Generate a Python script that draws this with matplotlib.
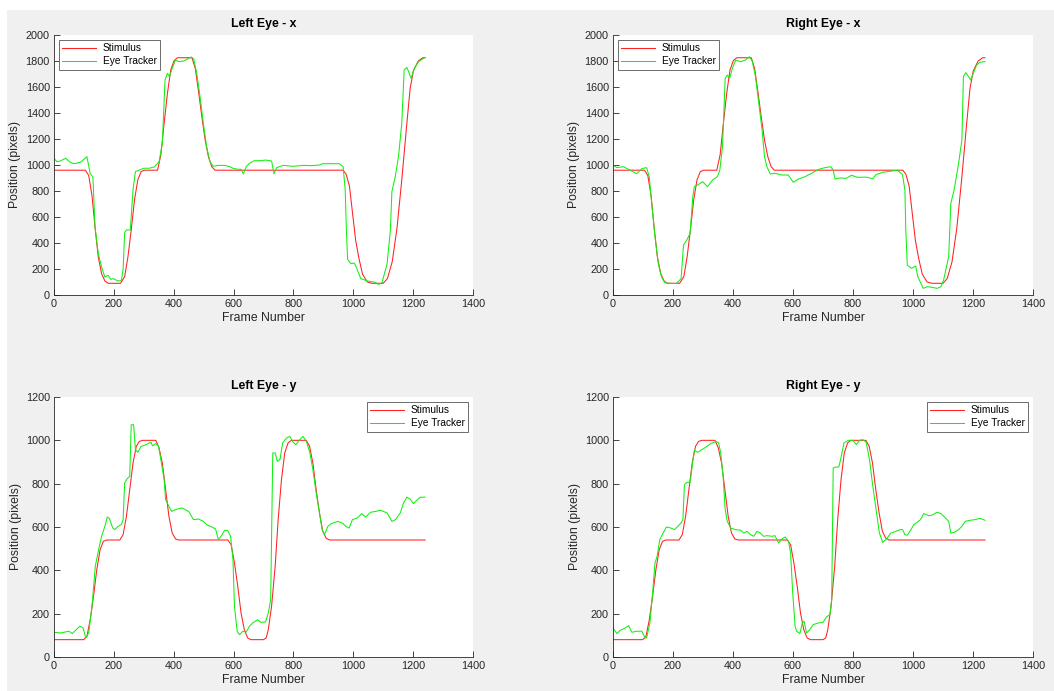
import numpy as np
import matplotlib
matplotlib.use('Agg')
import matplotlib.pyplot as plt
from matplotlib.patches import Rectangle

plt.rcParams['font.family'] = ['Liberation Sans', 'DejaVu Sans']

# stimulus trajectory (same for both eyes)
stim_x_frames = [0, 105, 116, 127, 138, 148, 159, 170, 181, 222, 236, 247, 258, 269, 280, 291, 302,
                 346, 357, 368, 379, 390, 401, 412, 461, 472, 483, 494, 505, 516, 527, 538,
                 966, 976, 987, 998, 1008, 1019, 1031, 1047, 1062, 1100, 1114, 1130, 1146, 1162,
                 1179, 1190, 1201, 1217, 1232, 1240]
stim_x = [960, 960, 920, 763, 500, 292, 164, 108, 90, 90, 141, 292, 500, 731, 885, 949, 960,
          960, 1077, 1321, 1551, 1731, 1802, 1825, 1825, 1744, 1564, 1372, 1192, 1064, 987, 960,
          960, 930, 840, 620, 420, 280, 160, 100, 90, 90, 126, 255, 513, 885,
          1321, 1590, 1725, 1800, 1825, 1825]

stim_y_frames = [0, 99, 110, 121, 132, 143, 154, 165, 176, 220, 231, 242, 253, 264, 275, 285, 296,
                 340, 351, 362, 373, 384, 395, 406, 417, 581, 592, 603, 614, 625, 636, 647, 658,
                 700, 709, 716, 727, 739, 749, 760, 771, 782, 793, 843, 854, 865, 876, 887, 898,
                 909, 920, 1240]
stim_y = [80, 80, 95, 172, 280, 403, 495, 534, 540, 540, 565, 649, 772, 895, 972, 995, 1000,
          1000, 965, 895, 772, 649, 572, 545, 540, 540, 518, 434, 326, 203, 126, 88, 80,
          80, 88, 126, 234, 419, 634, 818, 942, 988, 1000, 1000, 972, 895, 772, 665, 580,
          549, 540, 540]

# eye tracker readings
lx_frames = [0, 10, 20, 39, 55, 66, 88, 110, 121, 130, 137, 148, 159, 170, 181, 190, 198, 214, 225,
             231, 236, 242, 255, 264, 272, 285, 300, 318, 335, 351, 362, 371, 379, 386, 395, 406,
             417, 433, 444, 459, 467, 477, 488, 499, 510, 521, 532, 549, 571, 587, 598, 614, 625,
             633, 642, 653, 669, 691, 707, 727, 735, 744, 766, 799, 832, 860, 887, 898, 953, 966,
             973, 977, 981, 992, 1003, 1010, 1025, 1047, 1069, 1085, 1096, 1113, 1124, 1129, 1140,
             1151, 1162, 1170, 1179, 1187, 1193, 1204, 1218, 1240]
lx = [1051, 1025, 1030, 1051, 1020, 1010, 1020, 1064, 933, 908, 525, 318, 215, 138, 151, 120, 126,
      108, 110, 200, 480, 500, 500, 808, 949, 961, 975, 975, 985, 1025, 1167, 1654, 1705, 1679,
      1744, 1808, 1795, 1800, 1813, 1831, 1815, 1705, 1526, 1321, 1141, 1026, 990, 997, 997, 987,
      975, 967, 967, 931, 987, 1013, 1033, 1033, 1038, 1031, 933, 980, 997, 990, 997, 995, 1000,
      1010, 1010, 987, 808, 500, 274, 241, 246, 215, 126, 108, 100, 82, 95, 241, 500, 795, 908,
      1064, 1321, 1731, 1751, 1705, 1667, 1744, 1795, 1828]

rx_frames = [0, 13, 35, 57, 79, 96, 112, 121, 129, 140, 151, 162, 173, 189, 211, 227, 235, 246, 257,
             266, 271, 282, 299, 315, 332, 348, 356, 365, 374, 381, 389, 398, 409, 425, 442, 455,
             464, 475, 486, 497, 505, 513, 524, 540, 562, 584, 601, 618, 640, 662, 685, 707, 726,
             734, 740, 756, 778, 795, 816, 844, 866, 877, 899, 921, 948, 965, 973, 976, 981, 995,
             1009, 1016, 1034, 1047, 1064, 1080, 1093, 1102, 1119, 1126, 1137, 1152, 1163, 1168,
             1176, 1185, 1192, 1201, 1212, 1223, 1240]
rx = [997, 980, 987, 960, 933, 972, 980, 908, 705, 449, 241, 138, 95, 90, 88, 126, 384, 423, 474,
      756, 833, 846, 872, 833, 885, 910, 960, 1141, 1667, 1692, 1667, 1744, 1808, 1795, 1808, 1833,
      1800, 1680, 1474, 1269, 1064, 987, 931, 936, 923, 923, 867, 892, 910, 936, 966, 980, 987,
      960, 892, 900, 898, 921, 905, 907, 895, 926, 944, 951, 960, 926, 808, 500, 230, 205,
      223, 141, 51, 64, 59, 51, 64, 115, 295, 705, 808, 1013, 1192, 1680,
      1711, 1680, 1654, 1705, 1769, 1790, 1795]

ly_frames = [0, 22, 50, 61, 72, 86, 97, 106, 116, 127, 138, 149, 159, 170, 178, 185, 196, 203, 214,
             225, 231, 236, 244, 253, 258, 266, 272, 280, 291, 307, 324, 329, 340, 349, 357, 368,
             373, 384, 393, 412, 428, 450, 466, 483, 499, 510, 527, 540, 549, 560, 570, 581, 590,
             598, 603, 612, 620, 631, 642, 653, 664, 680, 691, 707, 716, 724, 731, 739, 746, 755,
             764, 777, 788, 799, 808, 821, 832, 843, 854, 865, 876, 887, 896, 904, 915, 926, 948,
             964, 975, 986, 997, 1014, 1028, 1041, 1058, 1074, 1091, 1113, 1129, 1141, 1157, 1168,
             1179, 1190, 1201, 1212, 1223, 1240]
ly = [114, 111, 119, 108, 123, 142, 135, 88, 111, 234, 419, 495, 557, 603, 646, 640, 596, 588, 603,
      611, 634, 803, 822, 834, 1072, 1072, 957, 945, 972, 980, 991, 975, 985, 975, 911, 818,
      726, 695, 672, 683, 688, 672, 634, 637, 626, 611, 600, 591, 542, 560, 585, 583, 557,
      449, 234, 119, 103, 119, 115, 142, 157, 172, 160, 162, 203, 265, 942, 942, 903, 911,
      988, 1011, 1018, 991, 980, 1003, 1018, 995, 949, 865, 757, 665, 588, 565, 603, 615, 626,
      618, 603, 595, 634, 642, 662, 646, 668, 672, 677, 665, 626, 634, 665, 711,
      738, 729, 708, 723, 737, 738]

ry_frames = [0, 13, 24, 41, 52, 63, 79, 96, 107, 112, 123, 132, 140, 147, 156, 167, 178, 191, 205,
             216, 227, 233, 238, 246, 257, 266, 271, 282, 293, 310, 326, 343, 352, 359, 367, 374,
             381, 392, 409, 425, 436, 447, 458, 469, 480, 491, 502, 513, 530, 540, 552, 563, 574,
             585, 592, 599, 607, 612, 623, 631, 637, 645, 656, 667, 684, 700, 712, 723, 729, 734,
             742, 753, 762, 770, 784, 800, 811, 822, 833, 844, 855, 866, 877, 888, 899, 910, 926,
             943, 957, 965, 973, 981, 992, 1003, 1014, 1025, 1036, 1053, 1064, 1080, 1093, 1108,
             1119, 1126, 1137, 1152, 1163, 1174, 1190, 1207, 1223, 1240]
ry = [134, 108, 123, 134, 145, 114, 119, 119, 88, 88, 157, 296, 434, 465, 542, 572, 600, 596, 588,
      603, 619, 634, 795, 806, 806, 903, 954, 945, 954, 969, 985, 995, 988, 942, 834, 680,
      626, 595, 588, 585, 572, 580, 565, 557, 580, 572, 557, 560, 557, 560, 526, 545, 554,
      534, 480, 296, 142, 119, 108, 157, 165, 111, 126, 149, 157, 160, 185, 196, 265, 872,
      877, 877, 934, 988, 1000, 1000, 980, 1000, 1003, 991, 911, 788, 680, 572, 529, 542, 572,
      580, 588, 588, 565, 562, 585, 611, 622, 634, 662, 652, 655, 668, 662, 642,
      626, 572, 575, 588, 603, 626, 631, 634, 640, 631]

titles = ['Left Eye - x', 'Right Eye - x', 'Left Eye - y', 'Right Eye - y']

W, H = 1054, 691
fig = plt.figure(figsize=(W / 100, H / 100), dpi=100, facecolor='white')
fig.patches.append(Rectangle((7 / W, 0), 1, 1 - 10 / H, transform=fig.transFigure,
                             facecolor='#f0f0f0', edgecolor='none', zorder=-10))

# axes boxes in pixels: left, top, right, bottom
boxes = [(54, 35, 473, 295), (613, 35, 1033, 295), (54, 397, 473, 657), (613, 397, 1033, 657)]
panels = [
    (stim_x_frames, stim_x, lx_frames, lx, 2000, 'upper left'),
    (stim_x_frames, stim_x, rx_frames, rx, 2000, 'upper left'),
    (stim_y_frames, stim_y, ly_frames, ly, 1200, 'upper right'),
    (stim_y_frames, stim_y, ry_frames, ry, 1200, 'upper right'),
]
dark = '#262626'

for (l, t, r, b), (sf, sv, ef, ev, ymax, loc), title in zip(boxes, panels, titles):
    ax = fig.add_axes([l / W, 1 - b / H, (r - l) / W, (b - t) / H])
    ax.plot(sf, sv, color='#ff2020', lw=0.75, label='Stimulus')
    ax.plot(ef, ev, color='#10f010', lw=0.75, label='Eye Tracker')
    ax.set_xlim(0, 1400)
    ax.set_ylim(0, ymax)
    ax.set_xticks(np.arange(0, 1401, 200))
    ax.set_yticks(np.arange(0, ymax + 1, 200))
    for s in ['top', 'right']:
        ax.spines[s].set_visible(False)
    for s in ['left', 'bottom']:
        ax.spines[s].set_color(dark)
        ax.spines[s].set_linewidth(0.6)
    ax.tick_params(direction='in', length=4, width=0.6, color=dark, labelcolor=dark,
                   labelsize=7.8, pad=3)
    ax.set_xlabel('Frame Number', fontsize=8.8, color=dark, labelpad=2)
    ax.set_ylabel('Position (pixels)', fontsize=8.8, color=dark, labelpad=3)
    ax.set_title(title, fontsize=8.8, fontweight='bold', pad=6)
    leg = ax.legend(loc=loc, fontsize=7.3, fancybox=False, framealpha=1, edgecolor='#555555',
                    handlelength=3.3, borderaxespad=0.45, borderpad=0.35, labelspacing=0.3,
                    handletextpad=0.7)
    leg.get_frame().set_linewidth(0.6)

fig.savefig('out.png', dpi=100, facecolor=fig.get_facecolor())
